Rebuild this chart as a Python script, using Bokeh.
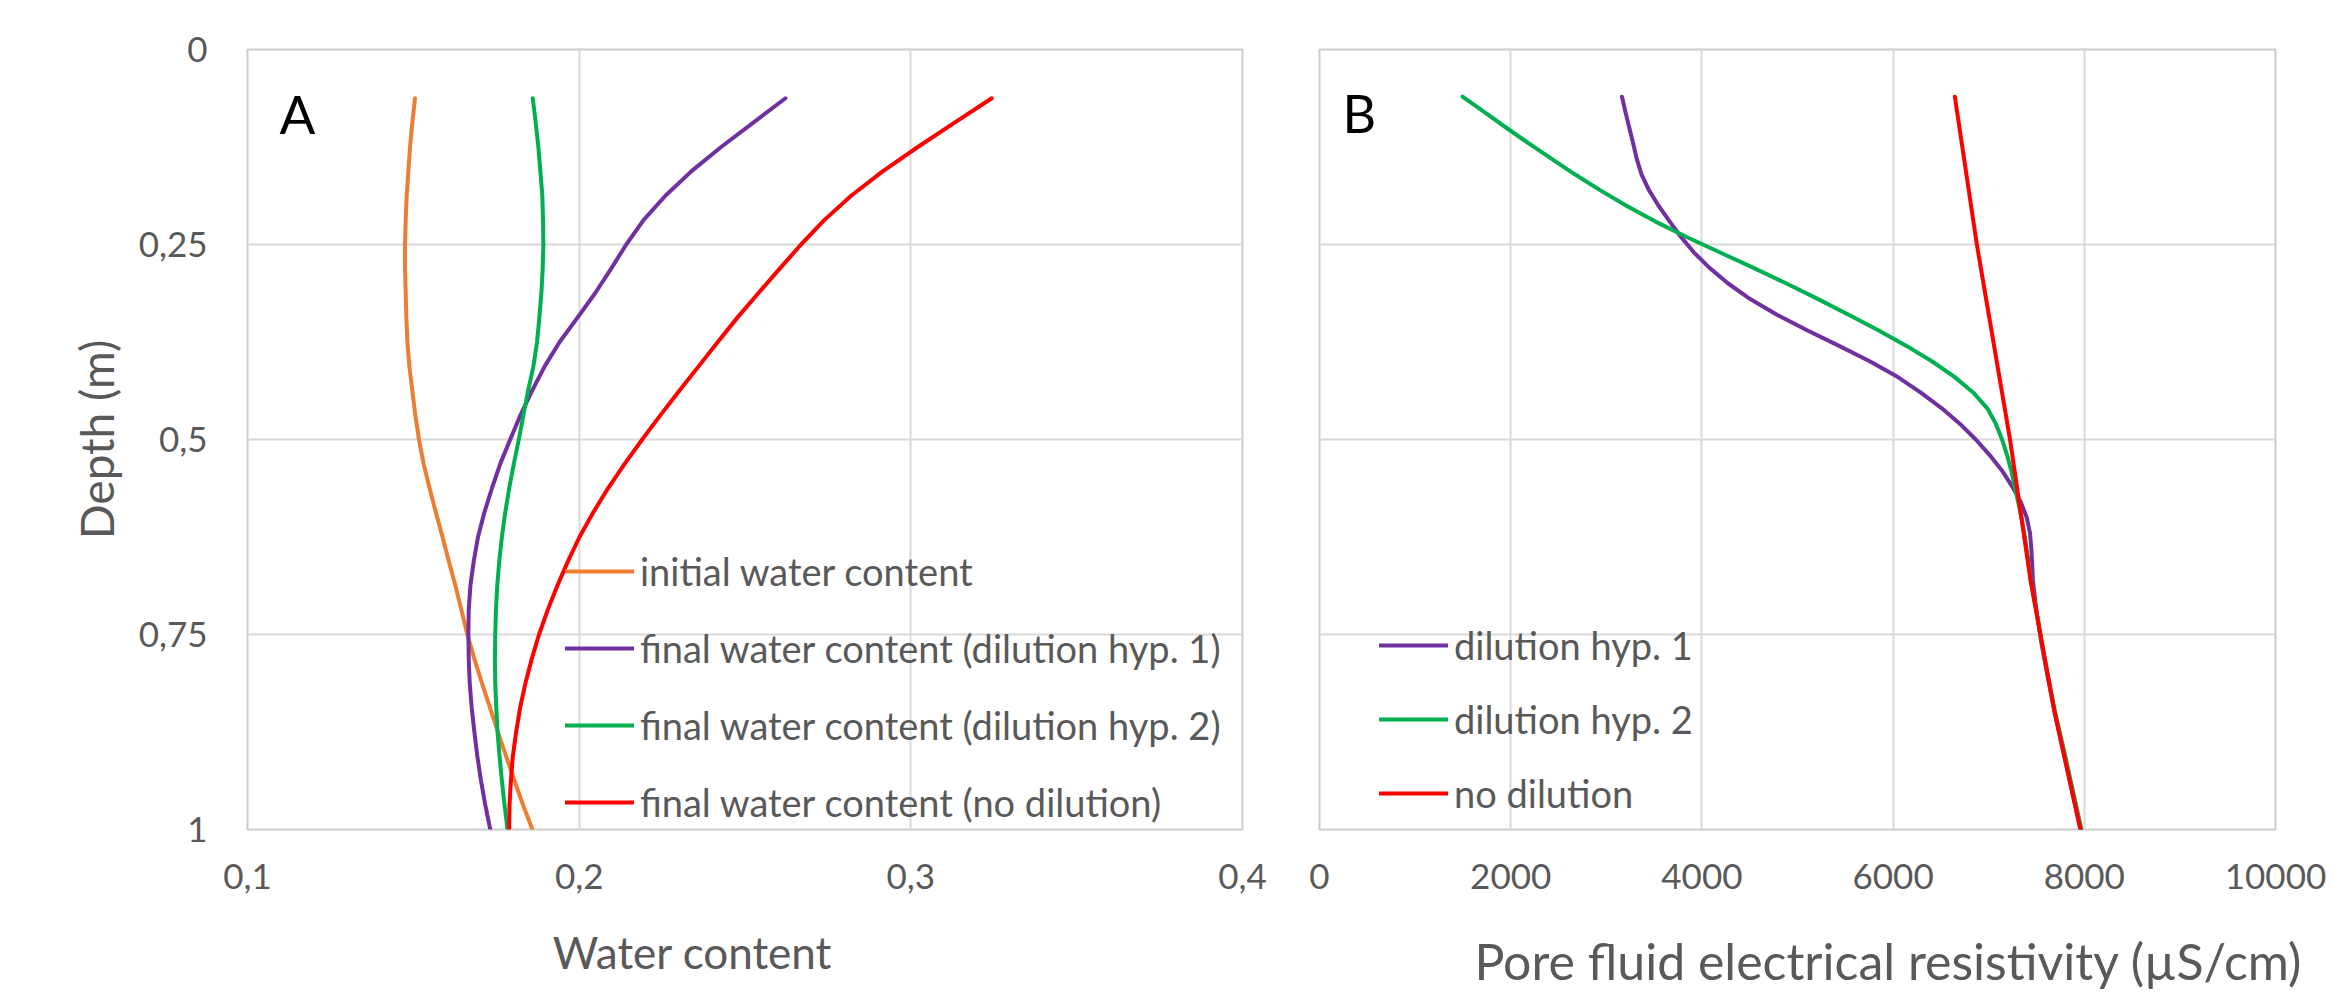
from bokeh.plotting import figure
from bokeh.models import (Range1d, FixedTicker, CustomJSTickFormatter, Label,
                          Legend, LegendItem)
from bokeh.core.properties import value
from bokeh.layouts import row, column
from bokeh.embed import file_html
from bokeh.resources import INLINE

# ---------------- data: panel A (water content vs depth) ----------------
depth_a = [0.0625, 0.09375, 0.125, 0.15625, 0.1875, 0.21875, 0.25, 0.28125,
           0.3125, 0.34375, 0.375, 0.40625, 0.4375, 0.46875, 0.5, 0.53125,
           0.5625, 0.59375, 0.625, 0.65625, 0.6875, 0.71875, 0.75, 0.78125,
           0.8125, 0.84375, 0.875, 0.90625, 0.9375, 0.96875, 1.0]
wc_initial = [0.1505, 0.1497, 0.1490, 0.1485, 0.1480, 0.1477, 0.1475, 0.1475,
              0.1477, 0.1479, 0.1482, 0.1488, 0.1497, 0.1506, 0.1517, 0.1531,
              0.1549, 0.1568, 0.1588, 0.1607, 0.1627, 0.1645, 0.1663, 0.1684,
              0.1707, 0.1731, 0.1755, 0.1780, 0.1805, 0.1831, 0.1859]
wc_hyp1 = [0.2622, 0.2525, 0.2428, 0.2338, 0.2260, 0.2194, 0.2142, 0.2096,
           0.2048, 0.1995, 0.1941, 0.1896, 0.1858, 0.1823, 0.1792, 0.1762,
           0.1737, 0.1714, 0.1695, 0.1682, 0.1672, 0.1667, 0.1666, 0.1667,
           0.1670, 0.1676, 0.1684, 0.1693, 0.1704, 0.1717, 0.1732]
wc_hyp2 = [0.1860, 0.1869, 0.1877, 0.1883, 0.1889, 0.1891, 0.1892, 0.1890,
           0.1886, 0.1880, 0.1873, 0.1862, 0.1846, 0.1832, 0.1818, 0.1803,
           0.1789, 0.1777, 0.1767, 0.1759, 0.1753, 0.1749, 0.1747, 0.1746,
           0.1747, 0.1750, 0.1754, 0.1760, 0.1767, 0.1775, 0.1784]
wc_nodil = [0.3244, 0.3132, 0.3021, 0.2915, 0.2820, 0.2739, 0.2669, 0.2604,
            0.2540, 0.2477, 0.2418, 0.2360, 0.2302, 0.2245, 0.2190, 0.2137,
            0.2087, 0.2042, 0.2001, 0.1966, 0.1934, 0.1905, 0.1879, 0.1857,
            0.1838, 0.1822, 0.1810, 0.1800, 0.1794, 0.1790, 0.1789]
labels_a = ["initial water content",
            "final water content (dilution hyp. 1)",
            "final water content (dilution hyp. 2)",
            "final water content (no dilution)"]
ticks_wc = [0.1, 0.2, 0.3, 0.4]
ticks_depth = [0, 0.25, 0.5, 0.75, 1]

# ---------------- data: panel B (pore fluid resistivity vs depth) ----------------
depth_b1 = [0.0605, 0.08, 0.10, 0.12, 0.14, 0.16, 0.18, 0.20, 0.22, 0.24,
            0.26, 0.28, 0.30, 0.32, 0.34, 0.36, 0.38, 0.40, 0.42, 0.44,
            0.46, 0.48, 0.50, 0.52, 0.54, 0.56, 0.58, 0.60, 0.62, 0.64,
            0.66, 0.68, 0.72, 0.76, 0.80, 0.85, 0.90, 0.95, 1.0]
res_hyp1 = [3164, 3200, 3240, 3280, 3318, 3368, 3445, 3545, 3660, 3780,
            3915, 4080, 4275, 4505, 4785, 5100, 5435, 5760, 6050, 6290,
            6510, 6700, 6865, 7010, 7140, 7245, 7335, 7398, 7432, 7446,
            7455, 7462, 7500, 7550, 7610, 7690, 7780, 7870, 7960]
depth_b2 = [0.0605, 0.08, 0.10, 0.12, 0.14, 0.16, 0.18, 0.20, 0.22, 0.24,
            0.26, 0.28, 0.30, 0.32, 0.34, 0.36, 0.38, 0.40, 0.42, 0.44,
            0.46, 0.48, 0.50, 0.52, 0.54, 0.56, 0.58, 0.60, 0.62, 0.65,
            0.68, 0.72, 0.76, 0.80, 0.85, 0.90, 0.95, 1.0]
res_hyp2 = [1496, 1722, 1950, 2185, 2425, 2670, 2930, 3205, 3505, 3835,
            4185, 4540, 4885, 5215, 5535, 5845, 6140, 6410, 6645, 6840,
            6985, 7075, 7140, 7192, 7236, 7272, 7308, 7342, 7372, 7408,
            7440, 7500, 7555, 7615, 7695, 7790, 7880, 7970]
depth_b3 = [0.0605, 0.25, 0.5, 0.6823, 0.85, 1.0]
res_nodil = [6646, 6876, 7223, 7440, 7690, 7960]
labels_b = ["dilution hyp. 1", "dilution hyp. 2", "no dilution"]
ticks_res = [0, 2000, 4000, 6000, 8000, 10000]

# ---------------- styles ----------------
FONT = "Lato"
GRAY = "#595959"
GRID = "#d9d9d9"
C_ORANGE = "#ED7D31"
C_PURPLE = "#7030A0"
C_GREEN = "#00B050"
C_RED = "#FF0000"
LW = 4
WA, WB = 1290, 1049          # widths of the two panels
H_MAIN, H_STRIP = 909, 80     # main plots and the strip holding the x titles


def style(p, xticks, yticks):
    p.outline_line_color = "#cccccc"
    p.outline_line_width = 2
    p.background_fill_color = "white"
    p.border_fill_color = "white"
    for ax in (p.xaxis[0], p.yaxis[0]):
        ax.axis_line_color = None
        ax.major_tick_line_color = None
        ax.minor_tick_line_color = None
        ax.major_tick_out = 0
        ax.major_tick_in = 0
        ax.major_label_text_font = FONT
        ax.major_label_text_font_size = "35px"
        ax.major_label_text_color = GRAY
    p.xaxis[0].ticker = FixedTicker(ticks=xticks)
    p.yaxis[0].ticker = FixedTicker(ticks=yticks)
    p.xgrid[0].ticker = FixedTicker(ticks=xticks)
    p.ygrid[0].ticker = FixedTicker(ticks=yticks)
    p.xaxis[0].major_label_standoff = 34
    p.yaxis[0].major_label_standoff = 40
    for g in (p.xgrid[0], p.ygrid[0]):
        g.grid_line_color = GRID
        g.grid_line_width = 2


def make_legend(labels, renderers, x, y, spacing):
    return Legend(items=[LegendItem(label=l, renderers=[r]) for l, r in zip(labels, renderers)],
                  location=(x, y), glyph_width=69, glyph_height=30, label_height=30,
                  spacing=spacing, padding=0, margin=0, label_standoff=6,
                  border_line_color=None, background_fill_alpha=0,
                  label_text_font=FONT, label_text_font_size="38px",
                  label_text_color=GRAY)


def title_strip(width, x0, text, tx, ty, size):
    # blank strip under a panel; x in page pixels, y in pixels from the strip top
    s = figure(width=width, height=H_STRIP, x_range=Range1d(x0, x0 + width),
               y_range=Range1d(H_STRIP, 0),
               output_backend="svg", toolbar_location=None,
               min_border=0, min_border_left=0, min_border_right=0,
               min_border_top=0, min_border_bottom=0)
    s.axis.visible = False
    s.grid.visible = False
    s.outline_line_color = None
    s.text(x=[tx], y=[ty], text=[text], text_font=value(FONT),
           text_font_size=size, text_color=GRAY, text_align="center",
           text_baseline="middle")
    return s


# ---------------- panel A ----------------
pA = figure(width=WA, height=H_MAIN, x_range=Range1d(0.1, 0.4), y_range=Range1d(1, 0),
            output_backend="svg", toolbar_location=None,
            min_border_left=247, min_border_right=48, min_border_top=49,
            min_border_bottom=80)
style(pA, ticks_wc, ticks_depth)
pA.xaxis[0].formatter = CustomJSTickFormatter(code="return tick.toFixed(1).replace('.', ',');")
pA.yaxis[0].formatter = CustomJSTickFormatter(code="return String(tick).replace('.', ',');")
pA.yaxis[0].axis_label = "Depth (m)"
pA.yaxis[0].axis_label_standoff = 12
pA.yaxis[0].axis_label_text_font = FONT
pA.yaxis[0].axis_label_text_font_size = "46px"
pA.yaxis[0].axis_label_text_font_style = "normal"
pA.yaxis[0].axis_label_text_color = GRAY

rA = []
for xs, c in zip([wc_initial, wc_hyp1, wc_hyp2, wc_nodil],
                 [C_ORANGE, C_PURPLE, C_GREEN, C_RED]):
    rA.append(pA.line(xs, depth_a, line_color=c, line_width=LW,
                      line_cap="round", line_join="round"))

pA.add_layout(make_legend(labels_a, rA, 318, 4, 31))
pA.add_layout(Label(x=32, y=716, x_units="screen", y_units="screen", text="A",
                    text_font=FONT, text_font_size="53px", text_color="black",
                    text_align="left", text_baseline="alphabetic"))

# ---------------- panel B ----------------
pB = figure(width=WB, height=H_MAIN, x_range=Range1d(0, 10000), y_range=Range1d(1, 0),
            output_backend="svg", toolbar_location=None,
            min_border_left=29, min_border_right=64, min_border_top=49,
            min_border_bottom=80)
style(pB, ticks_res, ticks_depth)
pB.yaxis[0].visible = False

rB = []
for xs, ys, c in zip([res_hyp1, res_hyp2, res_nodil], [depth_b1, depth_b2, depth_b3],
                     [C_PURPLE, C_GREEN, C_RED]):
    rB.append(pB.line(xs, ys, line_color=c, line_width=LW,
                      line_cap="round", line_join="round"))

pB.add_layout(make_legend(labels_b, rB, 60, 13, 28))
pB.add_layout(Label(x=23, y=717, x_units="screen", y_units="screen", text="B",
                    text_font=FONT, text_font_size="52px", text_color="black",
                    text_align="left", text_baseline="alphabetic"))

# ---------------- x-axis titles ----------------
sA = title_strip(WA, 0, "Water content", 692, 42, "44px")
sB = title_strip(WB, WA, "Pore fluid electrical resistivity (µS/cm)", 1888, 51, "50px")

layout = column(row(pA, pB), row(sA, sB))
open("out.html", "w").write(file_html(layout, INLINE))
